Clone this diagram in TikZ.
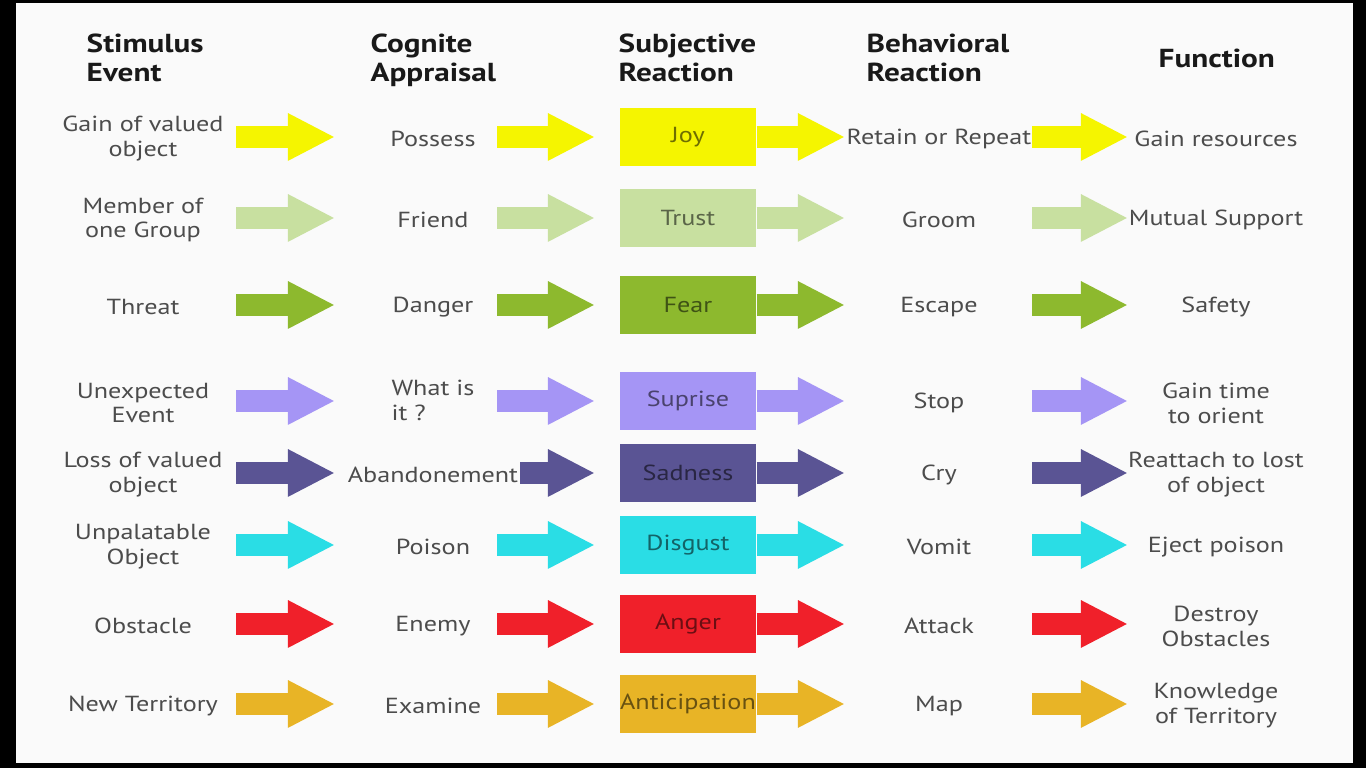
\documentclass[tikz,border=0pt]{standalone}
\usepackage{fontspec}
\setmainfont[FakeStretch=1.2]{PT Sans}
\usetikzlibrary{arrows.meta}
\definecolor{cjoy}{HTML}{F5F500}
\definecolor{ctrust}{HTML}{C8E0A0}
\definecolor{cfear}{HTML}{8DB92E}
\definecolor{csurp}{HTML}{A595F5}
\definecolor{csad}{HTML}{5A5494}
\definecolor{cdisg}{HTML}{2ADDE5}
\definecolor{cang}{HTML}{F0202A}
\definecolor{cant}{HTML}{E8B426}
\definecolor{paper}{HTML}{FAFAFA}

\begin{document}
\begin{tikzpicture}[x=0.01cm, y=-0.01cm,
  head/.style={anchor=north west, align=left, inner sep=0pt, text=black!90, font=\fontsize{7.4}{8.3}\selectfont\bfseries},
  lbl/.style={align=center, inner sep=0pt, text=black!70, font=\fontsize{6.2}{7.1}\selectfont},
  emo/.style={minimum width=1.36cm, minimum height=0.58cm, inner sep=0pt, font=\fontsize{6.2}{7.1}\selectfont},
  fat/.style={line width=0.22cm, -{Triangle[length=0.47cm, width=0.44cm]}},
]
  \fill[black] (0,0) rectangle (1366,768);
  \fill[paper] (16,3) rectangle (1353,763);

  % column heads
  \node[head] (h1) at (86,33)   {Stimulus\\Event};
  \node[head] (h2) at (370,33)  {Cognite\\Appraisal};
  \node[head] (h3) at (618,33)  {Subjective\\Reaction};
  \node[head] (h4) at (866,33)  {Behavioral\\Reaction};
  \node[head] (h5) at (1158,48) {Function};

  % one row per emotion
  \foreach \i/\y/\ws/\col/\stim/\appr/\emo/\beh/\fun in {
      1/137/497/cjoy/{Gain of valued\\object}/Possess/Joy/{Retain or Repeat}/{Gain resources},
      2/218/497/ctrust/{Member of\\one Group}/Friend/Trust/Groom/{Mutual Support},
      3/305/497/cfear/Threat/Danger/Fear/Escape/Safety,
      4/401/497/csurp/{Unexpected\\Event}/{\begin{tabular}{@{}l@{}}What is\\it ?\end{tabular}}/Suprise/Stop/{Gain time\\to orient},
      5/473/520/csad/{Loss of valued\\object}/Abandonement/Sadness/Cry/{Reattach to lost\\of object},
      6/545/497/cdisg/{Unpalatable\\Object}/Poison/Disgust/Vomit/{Eject poison},
      7/624/497/cang/Obstacle/Enemy/Anger/Attack/{Destroy\\Obstacles},
      8/704/497/cant/{New Territory}/Examine/Anticipation/Map/{Knowledge\\of Territory}}{
    \node[lbl] (s\i) at (143,\y+2)  {\stim};
    \node[lbl] (c\i) at (433,\y+2)  {\appr};
    \node[emo, fill=\col, text=\col!45!black] (e\i) at (688,\y) {\emo};
    \node[lbl] (b\i) at (939,\y+2)  {\beh};
    \node[lbl] (f\i) at (1216,\y+2) {\fun};
    \path (236,\y) coordinate (u\i) (335,\y) coordinate (v\i)
          (\ws,\y) coordinate (w\i) (595,\y) coordinate (z\i)
          (845,\y) coordinate (t\i)
          (1032,\y) coordinate (m\i) (1128,\y) coordinate (n\i);
    \draw[fat, \col] (u\i) -- (v\i);
    \draw[fat, \col] (w\i) -- (z\i);
    \draw[fat, \col] (e\i.east) -- (t\i);
    \draw[fat, \col] (m\i) -- (n\i);
  }
\end{tikzpicture}
\end{document}
